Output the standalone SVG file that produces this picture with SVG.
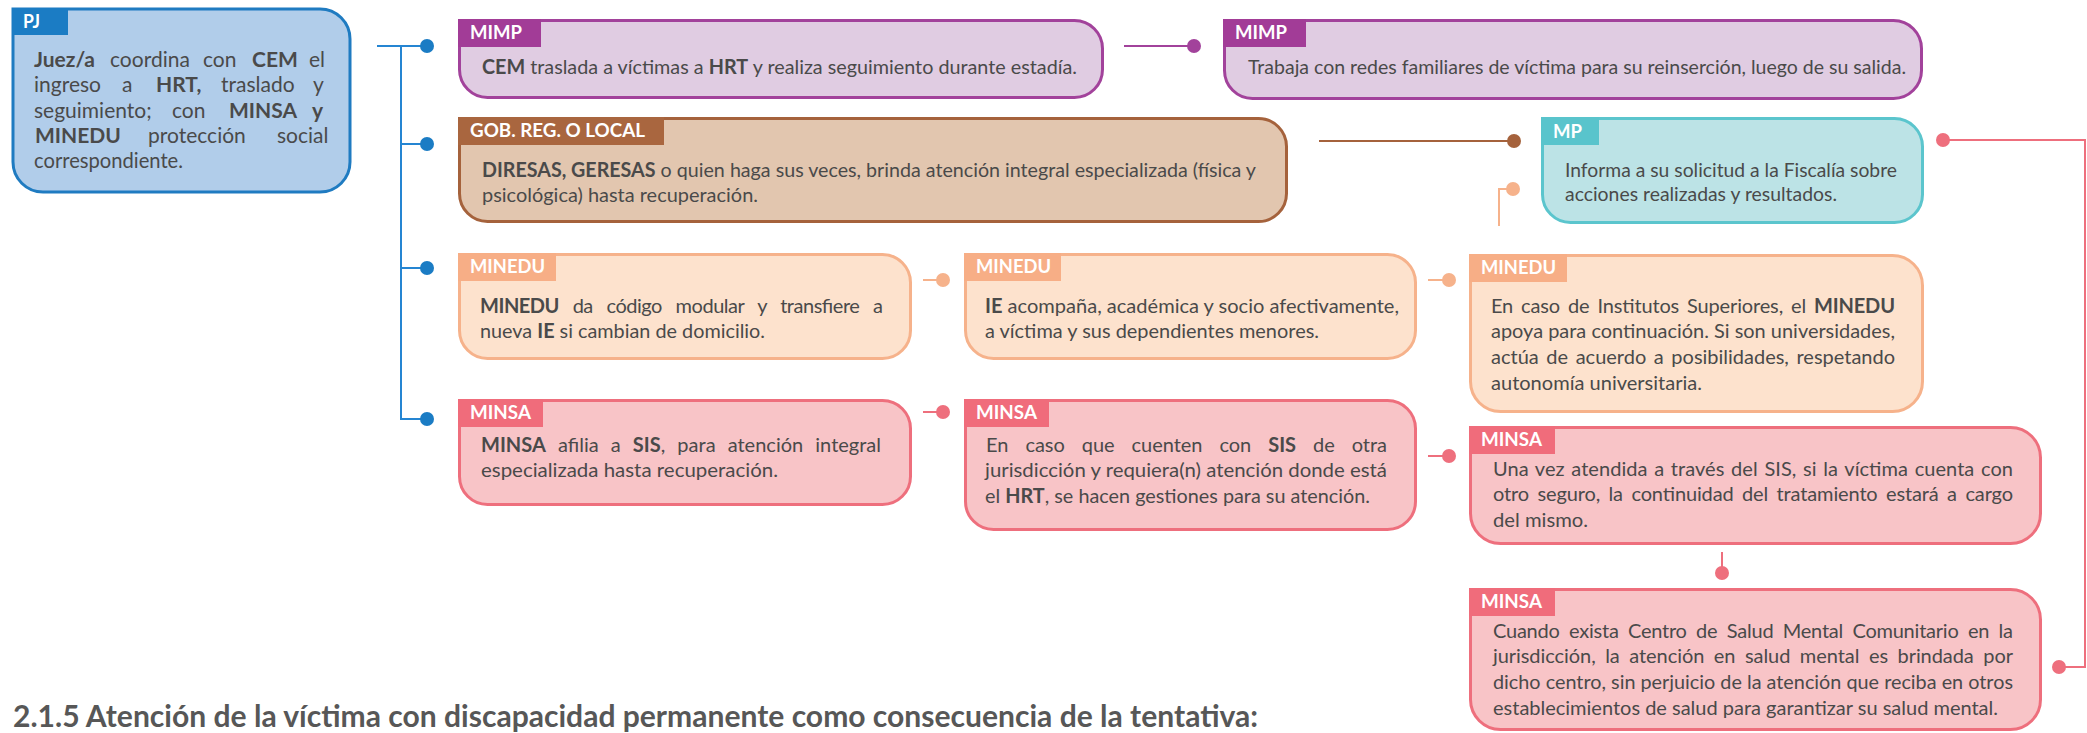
<svg xmlns="http://www.w3.org/2000/svg" width="2087" height="733" viewBox="0 0 2087 733">
<style>
.t{font-family:Lato,Carlito,"Liberation Sans",sans-serif;font-size:20px;fill:#4a4a4a}
.pj{font-size:21px}
.b{font-weight:700}
.h{font-family:Lato,Carlito,"Liberation Sans",sans-serif;font-size:19.5px;font-weight:700;fill:#ffffff}
.box{stroke-width:3}
.c{fill:none;stroke-width:2}
.hd{font-family:Lato,Carlito,"Liberation Sans",sans-serif;font-size:30px;font-weight:700;fill:#575757}
</style>
<rect width="2087" height="733" fill="#ffffff"/>

<g id="connectors">
  <path class="c" stroke="#2585D2" d="M377,46 H427 M401,46 V419 H427 M401,144 H427 M401,268 H427"/>
  <g fill="#1B7CC4"><circle cx="427" cy="46" r="7"/><circle cx="427" cy="144" r="7"/><circle cx="427" cy="268" r="7"/><circle cx="427" cy="419" r="7"/></g>
  <path class="c" stroke="#A2429B" d="M1124,46 H1194"/><circle cx="1194" cy="46" r="7" fill="#A2429B"/>
  <path class="c" stroke="#A5623C" d="M1319,141 H1514"/><circle cx="1514" cy="141" r="7" fill="#A5623C"/>
  <path class="c" stroke="#F6B28B" d="M1499,226 V189 H1513 M923,280 H943 M1428,280 H1449"/>
  <g fill="#F6B28B"><circle cx="1513" cy="189" r="7"/><circle cx="943" cy="280" r="7"/><circle cx="1449" cy="280" r="7"/></g>
  <path class="c" stroke="#EE6F7D" d="M923,412 H943 M1428,456 H1449 M1722,552 V573 M1943,140 H2085 V667 H2059"/>
  <g fill="#EE6F7D"><circle cx="943" cy="412" r="7"/><circle cx="1449" cy="456" r="7"/><circle cx="1722" cy="573" r="7"/><circle cx="1943" cy="140" r="7"/><circle cx="2059" cy="667" r="7"/></g>
</g>

<g id="pj">
  <path class="box" fill="#B1CDEA" stroke="#1F7BC1" d="M13,9 H320 A30,30 0 0 1 350,39 V162 A30,30 0 0 1 320,192 H43 A30,30 0 0 1 13,162 Z"/>
  <rect x="12" y="8" width="56" height="27" fill="#1B7CC4"/>
  <text class="h" x="23" y="28" textLength="17" lengthAdjust="spacingAndGlyphs">PJ</text>
  <text class="t pj" y="67"><tspan class="b" x="34">Juez/a</tspan><tspan x="110">coordina</tspan><tspan x="203">con</tspan><tspan class="b" x="252">CEM</tspan><tspan x="309">el</tspan></text>
  <text class="t pj" y="92"><tspan x="34">ingreso</tspan><tspan x="122">a</tspan><tspan class="b" x="156">HRT,</tspan><tspan x="221">traslado</tspan><tspan x="313">y</tspan></text>
  <text class="t pj" y="118"><tspan x="34">seguimiento;</tspan><tspan x="172">con</tspan><tspan class="b" x="229">MINSA</tspan><tspan class="b" x="312">y</tspan></text>
  <text class="t pj" y="143"><tspan class="b" x="35">MINEDU</tspan><tspan x="148">protección</tspan><tspan x="277">social</tspan></text>
  <text class="t pj" x="34" y="168" textLength="149" lengthAdjust="spacingAndGlyphs">correspondiente.</text>
</g>

<g id="mimp1">
  <path class="box" fill="#E0CCE2" stroke="#A2429B" d="M459.5,20.5 H1074.5 A28,28 0 0 1 1102.5,48.5 V69.5 A28,28 0 0 1 1074.5,97.5 H487.5 A28,28 0 0 1 459.5,69.5 Z"/>
  <rect x="458" y="19" width="83" height="28" fill="#A23C97"/>
  <text class="h" x="470" y="39" textLength="52" lengthAdjust="spacingAndGlyphs">MIMP</text>
  <text class="t" x="482" y="74" textLength="595" lengthAdjust="spacingAndGlyphs"><tspan class="b">CEM</tspan> traslada a víctimas a <tspan class="b">HRT</tspan> y realiza seguimiento durante estadía.</text>
</g>

<g id="mimp2">
  <path class="box" fill="#E0CCE2" stroke="#A2429B" d="M1224.5,20.5 H1893.5 A28,28 0 0 1 1921.5,48.5 V70.5 A28,28 0 0 1 1893.5,98.5 H1252.5 A28,28 0 0 1 1224.5,70.5 Z"/>
  <rect x="1223" y="19" width="83" height="28" fill="#A23C97"/>
  <text class="h" x="1235" y="39" textLength="52" lengthAdjust="spacingAndGlyphs">MIMP</text>
  <text class="t" x="1248" y="74" textLength="658" lengthAdjust="spacingAndGlyphs">Trabaja con redes familiares de víctima para su reinserción, luego de su salida.</text>
</g>

<g id="gob">
  <path class="box" fill="#E2C6AF" stroke="#A5623C" d="M459.5,118.5 H1258.5 A28,28 0 0 1 1286.5,146.5 V193.5 A28,28 0 0 1 1258.5,221.5 H487.5 A28,28 0 0 1 459.5,193.5 Z"/>
  <rect x="458" y="117" width="206" height="28" fill="#A9663F"/>
  <text class="h" x="470" y="137" textLength="175" lengthAdjust="spacingAndGlyphs">GOB. REG. O LOCAL</text>
  <text class="t" x="482" y="177" textLength="774" lengthAdjust="spacingAndGlyphs"><tspan class="b">DIRESAS, GERESAS</tspan> o quien haga sus veces, brinda atención integral especializada (física y</text>
  <text class="t" x="482" y="202" textLength="276" lengthAdjust="spacingAndGlyphs">psicológica) hasta recuperación.</text>
</g>

<g id="mp">
  <path class="box" fill="#BCE3E6" stroke="#5BC5CD" d="M1542.5,118.5 H1894.5 A28,28 0 0 1 1922.5,146.5 V194.5 A28,28 0 0 1 1894.5,222.5 H1570.5 A28,28 0 0 1 1542.5,194.5 Z"/>
  <rect x="1541" y="117" width="58" height="28" fill="#59C4CC"/>
  <text class="h" x="1553" y="138" textLength="29" lengthAdjust="spacingAndGlyphs">MP</text>
  <text class="t" x="1565" y="177" textLength="332" lengthAdjust="spacingAndGlyphs">Informa a su solicitud a la Fiscalía sobre</text>
  <text class="t" x="1565" y="201" textLength="272" lengthAdjust="spacingAndGlyphs">acciones realizadas y resultados.</text>
</g>

<g id="minedu1">
  <path class="box" fill="#FDE2CD" stroke="#F6B28B" d="M459.5,254.5 H882.5 A28,28 0 0 1 910.5,282.5 V330.5 A28,28 0 0 1 882.5,358.5 H487.5 A28,28 0 0 1 459.5,330.5 Z"/>
  <rect x="458" y="253" width="98" height="28" fill="#F7AE86"/>
  <text class="h" x="470" y="273" textLength="75" lengthAdjust="spacingAndGlyphs">MINEDU</text>
  <text class="t" x="480" y="313" style="word-spacing:9px" textLength="403" lengthAdjust="spacing"><tspan class="b">MINEDU</tspan> da código modular y transfiere a</text>
  <text class="t" x="480" y="338" textLength="285" lengthAdjust="spacingAndGlyphs">nueva <tspan class="b">IE</tspan> si cambian de domicilio.</text>
</g>

<g id="minedu2">
  <path class="box" fill="#FDE2CD" stroke="#F6B28B" d="M965.5,254.5 H1387.5 A28,28 0 0 1 1415.5,282.5 V330.5 A28,28 0 0 1 1387.5,358.5 H993.5 A28,28 0 0 1 965.5,330.5 Z"/>
  <rect x="964" y="253" width="97" height="28" fill="#F7AE86"/>
  <text class="h" x="976" y="273" textLength="75" lengthAdjust="spacingAndGlyphs">MINEDU</text>
  <text class="t" x="985" y="313" textLength="414" lengthAdjust="spacingAndGlyphs"><tspan class="b">IE</tspan> acompaña, académica y socio afectivamente,</text>
  <text class="t" x="985" y="338" textLength="334" lengthAdjust="spacingAndGlyphs">a víctima y sus dependientes menores.</text>
</g>

<g id="minedu3">
  <path class="box" fill="#FDE2CD" stroke="#F6B28B" d="M1470.5,255.5 H1892.5 A30,30 0 0 1 1922.5,285.5 V381.5 A30,30 0 0 1 1892.5,411.5 H1500.5 A30,30 0 0 1 1470.5,381.5 Z"/>
  <rect x="1469" y="254" width="98" height="28" fill="#F7AE86"/>
  <text class="h" x="1481" y="274" textLength="75" lengthAdjust="spacingAndGlyphs">MINEDU</text>
  <text class="t" x="1491" y="313" style="word-spacing:3px" textLength="404" lengthAdjust="spacing">En caso de Institutos Superiores, el <tspan class="b">MINEDU</tspan></text>
  <text class="t" x="1491" y="338" textLength="404" lengthAdjust="spacingAndGlyphs">apoya para continuación. Si son universidades,</text>
  <text class="t" x="1491" y="364" style="word-spacing:2.5px" textLength="404" lengthAdjust="spacing">actúa de acuerdo a posibilidades, respetando</text>
  <text class="t" x="1491" y="390" textLength="211" lengthAdjust="spacingAndGlyphs">autonomía universitaria.</text>
</g>

<g id="minsa1">
  <path class="box" fill="#F8C4C7" stroke="#EE6F7D" d="M459.5,400.5 H882.5 A28,28 0 0 1 910.5,428.5 V476.5 A28,28 0 0 1 882.5,504.5 H487.5 A28,28 0 0 1 459.5,476.5 Z"/>
  <rect x="458" y="399" width="85" height="28" fill="#F06C7B"/>
  <text class="h" x="470" y="419" textLength="61" lengthAdjust="spacingAndGlyphs">MINSA</text>
  <text class="t" x="481" y="452" style="word-spacing:7px" textLength="400" lengthAdjust="spacing"><tspan class="b">MINSA</tspan> afilia a <tspan class="b">SIS</tspan>, para atención integral</text>
  <text class="t" x="481" y="477" textLength="297" lengthAdjust="spacingAndGlyphs">especializada  hasta recuperación.</text>
</g>

<g id="minsa2">
  <path class="box" fill="#F8C4C7" stroke="#EE6F7D" d="M965.5,400.5 H1387.5 A28,28 0 0 1 1415.5,428.5 V501.5 A28,28 0 0 1 1387.5,529.5 H993.5 A28,28 0 0 1 965.5,501.5 Z"/>
  <rect x="964" y="399" width="85" height="28" fill="#F06C7B"/>
  <text class="h" x="976" y="419" textLength="61" lengthAdjust="spacingAndGlyphs">MINSA</text>
  <text class="t" x="986" y="452" style="word-spacing:12px" textLength="401" lengthAdjust="spacing">En caso que cuenten con <tspan class="b">SIS</tspan> de otra</text>
  <text class="t" x="985" y="477" textLength="402" lengthAdjust="spacingAndGlyphs">jurisdicción y requiera(n) atención donde está</text>
  <text class="t" x="985" y="503" textLength="385" lengthAdjust="spacingAndGlyphs">el <tspan class="b">HRT</tspan>, se hacen gestiones para su atención.</text>
</g>

<g id="minsa3">
  <path class="box" fill="#F8C4C7" stroke="#EE6F7D" d="M1470.5,427.5 H2010.5 A30,30 0 0 1 2040.5,457.5 V513.5 A30,30 0 0 1 2010.5,543.5 H1500.5 A30,30 0 0 1 1470.5,513.5 Z"/>
  <rect x="1469" y="426" width="86" height="28" fill="#F06C7B"/>
  <text class="h" x="1481" y="446" textLength="61" lengthAdjust="spacingAndGlyphs">MINSA</text>
  <text class="t" x="1493" y="476" style="word-spacing:1.5px" textLength="520" lengthAdjust="spacing">Una vez atendida a través del SIS, si la víctima cuenta con</text>
  <text class="t" x="1493" y="501" style="word-spacing:3.5px" textLength="520" lengthAdjust="spacing">otro seguro, la continuidad del tratamiento estará a cargo</text>
  <text class="t" x="1493" y="527" textLength="95" lengthAdjust="spacingAndGlyphs">del mismo.</text>
</g>

<g id="minsa4">
  <path class="box" fill="#F8C4C7" stroke="#EE6F7D" d="M1470.5,589.5 H2010.5 A30,30 0 0 1 2040.5,619.5 V699.5 A30,30 0 0 1 2010.5,729.5 H1500.5 A30,30 0 0 1 1470.5,699.5 Z"/>
  <rect x="1469" y="588" width="86" height="28" fill="#F06C7B"/>
  <text class="h" x="1481" y="608" textLength="61" lengthAdjust="spacingAndGlyphs">MINSA</text>
  <text class="t" x="1493" y="638" style="word-spacing:4.5px" textLength="520" lengthAdjust="spacing">Cuando exista Centro de Salud Mental Comunitario en la</text>
  <text class="t" x="1493" y="663" style="word-spacing:4.5px" textLength="520" lengthAdjust="spacing">jurisdicción, la atención en salud mental es brindada por</text>
  <text class="t" x="1493" y="689" textLength="520" lengthAdjust="spacingAndGlyphs">dicho centro, sin perjuicio de la atención que reciba en otros</text>
  <text class="t" x="1493" y="715" textLength="505" lengthAdjust="spacingAndGlyphs">establecimientos de salud para garantizar su salud mental.</text>
</g>

<text class="hd" x="13" y="727" textLength="1245" lengthAdjust="spacingAndGlyphs">2.1.5 Atención de la víctima con discapacidad permanente como consecuencia de la tentativa:</text>
</svg>
